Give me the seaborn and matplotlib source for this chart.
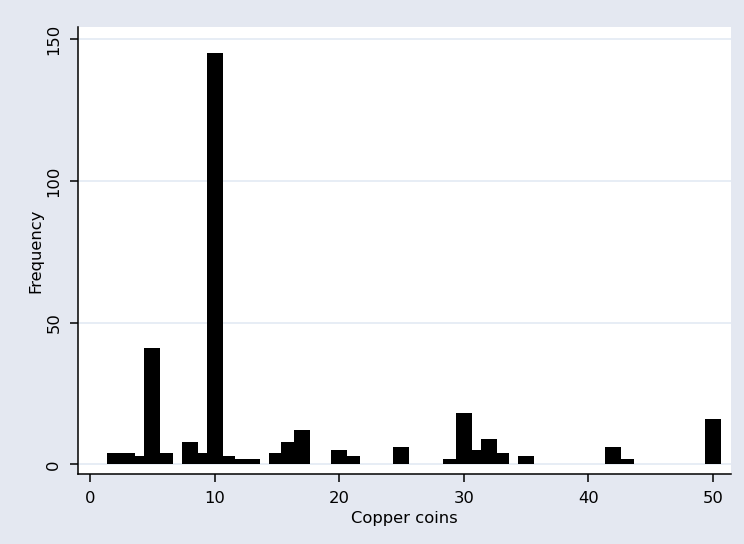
import matplotlib
matplotlib.use("Agg")
import matplotlib.pyplot as plt
import seaborn as sns
import pandas as pd

# Data (coin value -> frequency)
coin_values = [2, 3, 4, 5, 6, 8, 9, 10, 11, 12, 13, 15, 16, 17, 20, 21, 25,
               29, 30, 31, 32, 33, 35, 42, 43, 50]
frequencies = [4, 4, 3, 41, 4, 8, 4, 145, 3, 2, 2, 4, 8, 12, 5, 3, 6,
               2, 18, 5, 9, 4, 3, 6, 2, 16]
x_ticks = [0, 10, 20, 30, 40, 50]
y_ticks = [0, 50, 100, 150]

df = pd.DataFrame({"Copper coins": coin_values, "Frequency": frequencies})

sns.set_theme(style="white")
plt.rcParams["font.family"] = ["DejaVu Sans"]
plt.rcParams["text.color"] = "black"
plt.rcParams["axes.labelcolor"] = "black"

bg = "#E4E8F1"
fig = plt.figure(figsize=(7.44, 5.44), dpi=100, facecolor=bg)
ax = fig.add_axes([78 / 744, 1 - 474 / 544, (731 - 78) / 744, (474 - 27) / 544])
ax.set_facecolor("white")

sns.histplot(data=df, x="Copper coins", weights="Frequency", discrete=True,
             shrink=1.28, color="black", alpha=1, linewidth=0, ax=ax)

ax.set_xlim(-0.96, 51.45)
ax.set_ylim(-3.4, 154.3)
ax.set_xticks(x_ticks)
ax.set_yticks(y_ticks)

ax.yaxis.grid(True, color="#E3EAF3", linewidth=1.2)
ax.xaxis.grid(False)
ax.set_axisbelow(True)

for s in ["top", "right"]:
    ax.spines[s].set_visible(False)
for s in ["left", "bottom"]:
    ax.spines[s].set_color("black")
    ax.spines[s].set_linewidth(1.1)

ax.tick_params(axis="both", direction="out", length=6, width=1.1,
               color="black", labelsize=11.8, labelcolor="black")
ax.tick_params(axis="x", pad=6.5, bottom=True)
ax.tick_params(axis="y", pad=6, left=True, labelrotation=90)
for lab in ax.get_yticklabels():
    lab.set_va("center")
    lab.set_ha("right")

ax.set_xlabel("Copper coins", fontsize=11.8, labelpad=3.5, color="black")
ax.set_ylabel("Frequency", fontsize=11.8, labelpad=2, color="black")

fig.savefig("out.png", dpi=100, facecolor=bg)
